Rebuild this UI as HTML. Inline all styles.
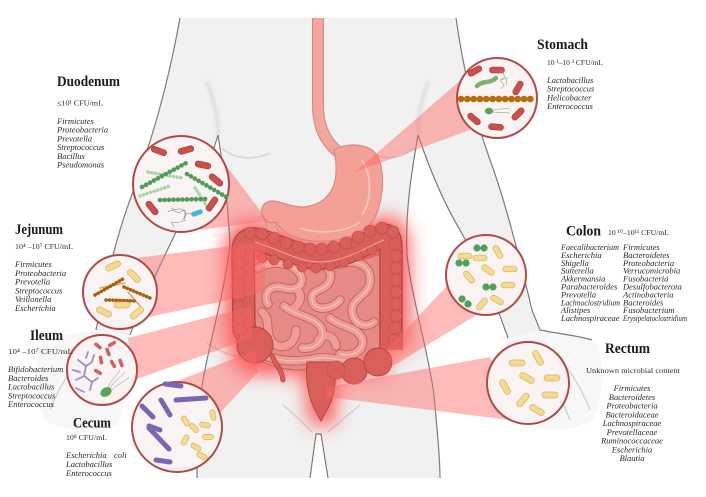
<!DOCTYPE html>
<html><head><meta charset="utf-8"><style>
html,body{margin:0;padding:0;background:#fff;}
svg{display:block;}
.t{font-family:"Liberation Serif",serif;font-weight:bold;font-size:14.5px;fill:#1a1a1a;}
.c{font-family:"Liberation Serif",serif;font-size:7.6px;fill:#2a2a2a;}
.l{font-family:"Liberation Serif",serif;font-style:italic;font-size:8.5px;fill:#2a2a2a;}
.rr{fill:#c9504d;stroke:#a33a37;stroke-width:.6;}
.yr{fill:#f4da92;stroke:#d4b35f;stroke-width:.7;}
.circ{fill:#f9f3f3;stroke:#b04a47;stroke-width:2;}
.wedge{fill:#ff6666;opacity:.45;}
.ol{fill:none;stroke:#7c7c7c;stroke-width:1.2;}
.col{fill:#d95f5a;stroke:#c04a46;stroke-width:.6;}
.colb{fill:#d95f5a;stroke:#b8423e;stroke-width:.9;}
</style></head><body>
<svg width="706" height="497" viewBox="0 0 706 497" xmlns="http://www.w3.org/2000/svg">
<defs>
<filter id="glow" x="-30%" y="-30%" width="160%" height="160%"><feGaussianBlur stdDeviation="9"/></filter>
<filter id="soft"><feGaussianBlur stdDeviation="1.5"/></filter>
<path id="l1" d="M258,268 C272,260 292,262 300,274 C306,284 296,292 284,288 C272,284 262,292 268,304"/>
<path id="l2" d="M304,264 C318,260 334,266 330,280 C326,292 310,288 312,300 C314,312 332,310 340,300"/>
<path id="l3" d="M340,264 C356,258 372,266 370,282 C368,296 352,298 352,310 C352,322 364,330 374,322"/>
<path id="l4" d="M262,312 C272,320 264,332 272,342 C282,352 296,344 296,330"/>
<path id="l5" d="M284,306 C296,316 312,316 320,326 C328,338 316,350 302,348"/>
<path id="l6" d="M330,318 C342,328 356,326 362,338 C366,350 352,358 340,354"/>
<path id="l7" d="M266,356 C282,362 300,362 318,358 C330,356 340,362 352,360"/>
<path id="l8" d="M296,288 C304,296 300,306 290,310"/>
<path id="l9" d="M318,340 C326,332 334,336 336,346"/>
</defs>

<!-- BODY -->
<path d="M180,18 L456,18 C462,60 472,110 490,160 C505,200 520,260 532,310 L540,330 C560,334 585,336 597,344 C606,370 602,400 592,420 C575,432 540,432 518,424 C508,405 505,370 508,338 C495,300 478,262 460,230 C445,205 430,170 418,135 C412,170 405,210 407,255 C412,300 428,350 434,395 C437,430 440,455 440,478 L328,478 L321,434 L316,434 L310,478 L197,478 C197,450 198,410 203,380 C210,340 225,290 230,245 C228,200 222,160 218,135 C208,170 190,205 177,230 C165,255 150,285 130,335 C125,370 128,400 118,424 C96,432 62,432 45,420 C36,400 32,370 42,344 C55,336 75,334 96,330 C104,290 115,240 130,200 C148,150 165,100 180,18 Z" fill="#f1f1f1"/>
<path d="M508,338 L540,330 C560,334 585,336 597,344 C606,370 602,400 592,420 C575,432 540,432 518,424 C508,405 505,370 508,338 Z" fill="#f7f7f7"/>
<path d="M130,335 L96,330 C75,334 55,336 42,344 C32,370 36,400 45,420 C62,432 96,432 118,424 C128,400 125,370 130,335 Z" fill="#f7f7f7"/>
<g filter="url(#soft)" stroke="#d9d9d9" stroke-width="3" fill="none">
<path d="M207,82 C214,100 218,118 218,135"/>
<path d="M428,82 C421,100 418,118 418,135"/>
</g>
<g stroke="#d2d2d2" stroke-width="1.4" fill="none">
<path d="M222,148 C235,160 255,160 270,153"/>
<path d="M414,148 C400,160 385,160 372,153"/>
<path d="M283,405 C295,415 305,425 312,432"/>
<path d="M360,405 C348,415 336,425 328,432"/>
<path d="M207,343 C220,352 232,356 242,357"/>
<path d="M545,345 C565,360 580,385 590,410"/>
<path d="M530,350 C548,370 560,395 570,420"/>
<path d="M95,345 C75,360 60,385 50,410"/>
</g>
<g class="ol">
<path d="M180,18 C165,100 148,150 130,200 C115,240 104,290 96,330"/>
<path d="M456,18 C462,60 472,110 490,160 C505,200 520,260 532,310 L540,330 C560,334 580,336 592,340"/>
<path d="M508,338 C495,300 478,262 460,230 C445,205 430,170 418,135"/>
<path d="M418,135 C412,170 405,210 407,255 C412,300 428,350 434,395 C437,430 440,455 440,478"/>
<path d="M218,135 C222,160 228,200 230,245 C225,290 210,340 203,380 C198,410 197,450 197,478"/>
<path d="M218,135 C208,170 190,205 177,230 C165,255 150,285 130,335"/>
<path d="M310,478 L316,434 L321,434 L328,478"/>
</g>

<!-- GLOW -->
<g filter="url(#glow)" opacity=".75" fill="#ff3030" stroke="#ff3030">
<path d="M255,342 L244,330 L243,252 C243,240 250,237 260,240 C285,248 300,257 320,258 C345,258 368,242 382,236 C390,233 391,240 391,250 L391,350" fill="none" stroke-width="38"/>
<rect x="248" y="245" width="140" height="130" stroke="none"/>
<circle cx="255" cy="348" r="26" stroke="none"/>
<path d="M306,360 L336,360 L330,420 L314,420 Z" stroke-width="10"/>
</g>

<!-- ESOPHAGUS & STOMACH -->
<path d="M318,18 L318,105 C318,125 324,140 338,152" fill="none" stroke="#d58880" stroke-width="12"/>
<path d="M318,18 L318,105 C318,125 324,140 338,152" fill="none" stroke="#f2a79e" stroke-width="10"/>
<path d="M268,212 C271,222 273,232 276,244" fill="none" stroke="#d58880" stroke-width="11"/>
<path d="M268,212 C271,222 273,232 276,244" fill="none" stroke="#f0a097" stroke-width="9"/>
<path d="M334,150 C345,143 368,142 377,155 C386,170 384,205 372,222 C355,242 315,246 292,236 C285,233 280,228 276,222 C270,224 264,222 262,215 C260,206 266,200 274,201 C282,202 292,207 302,207 C317,206 328,199 333,187 C338,174 336,160 334,150 Z" fill="#f3a096" stroke="#d5837a" stroke-width="1"/>
<path d="M362,160 C372,175 372,200 362,215" fill="none" stroke="#f8c4bd" stroke-width="2"/>
<path d="M300,228 C320,235 345,232 360,222" fill="none" stroke="#f8c4bd" stroke-width="1.5"/>

<!-- SMALL INTESTINE -->
<path d="M252,258 C280,262 300,270 320,270 C345,270 365,258 381,254 L381,352 C370,362 360,364 345,364 L300,370 C280,370 262,364 252,354 Z" fill="#e58a84" stroke="#c8625e"/>
<g fill="none" stroke="#c9655f" stroke-width="9.5" stroke-linecap="round">
<use href="#l1"/><use href="#l2"/><use href="#l3"/><use href="#l4"/><use href="#l5"/><use href="#l6"/><use href="#l7"/><use href="#l8"/><use href="#l9"/>
</g>
<g fill="none" stroke="#ee9d97" stroke-width="7.5" stroke-linecap="round">
<use href="#l1"/><use href="#l2"/><use href="#l3"/><use href="#l4"/><use href="#l5"/><use href="#l6"/><use href="#l7"/><use href="#l8"/><use href="#l9"/>
</g>
<g fill="none" stroke="#f7c6c1" stroke-width="1.1" stroke-linecap="round">
<use href="#l1"/><use href="#l2"/><use href="#l3"/><use href="#l5"/><use href="#l6"/><use href="#l7"/>
</g>

<!-- LARGE INTESTINE -->
<path d="M255,342 L244,330 L243,252 C243,240 250,237 260,240 C285,248 300,257 320,258 C345,258 368,242 382,236 C390,233 391,240 391,250 L391,350" fill="none" stroke="#b8423e" stroke-width="23.5" stroke-linejoin="round"/>
<path d="M255,342 L244,330 L243,252 C243,240 250,237 260,240 C285,248 300,257 320,258 C345,258 368,242 382,236 C390,233 391,240 391,250 L391,350" fill="none" stroke="#d95f5a" stroke-width="21" stroke-linejoin="round"/>
<path d="M272,356 C276,365 282,370 283,380" fill="none" stroke="#b8423e" stroke-width="5" stroke-linecap="round"/>
<path d="M272,356 C276,365 282,370 283,380" fill="none" stroke="#d95f5a" stroke-width="3.4" stroke-linecap="round"/>
<path d="M307,362 C305,382 309,398 315,410 L321,421 L327,410 C334,398 337,382 334,362 Z" class="colb"/>
<circle cx="255" cy="345" r="18" class="colb"/>
<circle cx="354" cy="371" r="13" class="colb"/>
<circle cx="378" cy="362" r="14" class="colb"/>
<g class="col">
<circle cx="240" cy="252" r="6"/><circle cx="239" cy="263" r="6"/><circle cx="239" cy="274" r="6"/><circle cx="239" cy="285" r="6"/><circle cx="239" cy="296" r="6"/><circle cx="239" cy="307" r="6"/><circle cx="240" cy="318" r="6"/><circle cx="241" cy="329" r="6"/>
<circle cx="250" cy="233" r="6"/><circle cx="262" cy="234" r="6"/><circle cx="274" cy="238" r="6"/><circle cx="286" cy="243" r="6"/><circle cx="298" cy="247" r="6"/><circle cx="310" cy="249" r="6"/><circle cx="322" cy="249" r="6"/><circle cx="334" cy="247" r="6"/><circle cx="346" cy="243" r="6"/><circle cx="358" cy="237" r="6"/><circle cx="370" cy="231" r="6"/><circle cx="382" cy="228" r="6"/><circle cx="393" cy="232" r="6"/>
<circle cx="395" cy="244" r="6"/><circle cx="396" cy="256" r="6"/><circle cx="396" cy="268" r="6"/><circle cx="396" cy="280" r="6"/><circle cx="396" cy="292" r="6"/><circle cx="396" cy="304" r="6"/><circle cx="396" cy="316" r="6"/><circle cx="395" cy="328" r="6"/><circle cx="394" cy="340" r="6"/>
<circle cx="262" cy="258" r="5"/><circle cx="274" cy="260" r="5"/><circle cx="288" cy="264" r="5"/><circle cx="302" cy="267" r="5"/><circle cx="316" cy="268" r="5"/><circle cx="330" cy="266" r="5"/><circle cx="344" cy="262" r="5"/><circle cx="358" cy="256" r="5"/><circle cx="372" cy="250" r="5"/>
<circle cx="336" cy="370" r="9"/>
</g>
<path d="M255,242 C285,252 300,262 320,262 C345,262 368,246 384,240" fill="none" stroke="#f2a5a0" stroke-width="1"/>

<!-- WEDGES -->
<polygon class="wedge" points="355,172 462,79 470,130"/>
<polygon class="wedge" points="222,160 268,221 200,230"/>
<polygon class="wedge" points="136,258 265,242 265,292 145,318"/>
<polygon class="wedge" points="128,338 252,306 252,338 134,380"/>
<polygon class="wedge" points="150,392 255,350 258,372 218,415"/>
<polygon class="wedge" points="388,348 448,285 478,314 393,366"/>
<polygon class="wedge" points="490,357 518,421 327,397 327,387"/>

<!-- CIRCLES -->
<circle class="circ" cx="181" cy="184" r="48"/>
<circle class="circ" cx="120" cy="292" r="37"/>
<circle class="circ" cx="102" cy="370" r="35"/>
<circle class="circ" cx="177" cy="427" r="45"/>
<circle class="circ" cx="497" cy="98" r="40"/>
<circle class="circ" cx="486" cy="275" r="40"/>
<circle class="circ" cx="528" cy="383" r="41"/>

<!-- Duodenum bacteria -->
<g fill="none" stroke-linecap="round">
<line x1="148" y1="172" x2="182" y2="178" stroke="#a9d1a3" stroke-width="3.4" stroke-dasharray="0.1 3.6"/>
<line x1="140" y1="196" x2="170" y2="186" stroke="#a9d1a3" stroke-width="3.4" stroke-dasharray="0.1 3.6"/>
<line x1="195" y1="188" x2="208" y2="208" stroke="#a9d1a3" stroke-width="3.4" stroke-dasharray="0.1 3.6"/>
<line x1="142" y1="187" x2="186" y2="163" stroke="#519c57" stroke-width="4.6" stroke-dasharray="0.1 4.4"/>
<line x1="160" y1="200" x2="207" y2="199" stroke="#519c57" stroke-width="4.6" stroke-dasharray="0.1 4.4"/>
<line x1="187" y1="174" x2="228" y2="198" stroke="#519c57" stroke-width="4.6" stroke-dasharray="0.1 4.4"/>
</g>
<rect class="rr" x="151" y="148" width="16" height="6" rx="3" transform="rotate(20 159 151)"/>
<rect class="rr" x="178" y="147" width="16" height="6" rx="3" transform="rotate(-15 186 150)"/>
<rect class="rr" x="195" y="162" width="16" height="6" rx="3" transform="rotate(12 203 165)"/>
<rect class="rr" x="208" y="177" width="16" height="6" rx="3" transform="rotate(40 216 180)"/>
<rect class="rr" x="144" y="205" width="16" height="6" rx="3" transform="rotate(50 152 208)"/>
<rect class="rr" x="204" y="201" width="16" height="6" rx="3" transform="rotate(-55 212 204)"/>
<path d="M168,212 c5,-6 9,4 14,-1 s6,9 -2,11 s-11,-3 -6,5 M172,208 c4,4 8,-2 12,3 s-4,8 2,10 M186,214 c3,-3 6,2 9,-2" fill="none" stroke="#8a8a8a" stroke-width=".6"/>
<rect x="191" y="210.5" width="12" height="5" rx="2.5" fill="#48b5df" transform="rotate(-20 197 213)"/>

<!-- Jejunum bacteria -->
<g stroke-linecap="round" fill="none">
<line x1="100" y1="288" x2="125" y2="283" stroke="#d2a566" stroke-width="1.5"/>
<line x1="128" y1="292" x2="140" y2="306" stroke="#d2a566" stroke-width="1.5"/>
<line x1="95" y1="295" x2="123" y2="279" stroke="#a8620f" stroke-width="3.6" stroke-dasharray="0.1 3.4"/>
<line x1="124" y1="287" x2="150" y2="298" stroke="#a8620f" stroke-width="3.6" stroke-dasharray="0.1 3.4"/>
<line x1="106" y1="300" x2="136" y2="301" stroke="#a8620f" stroke-width="3.6" stroke-dasharray="0.1 3.4"/>
</g>
<rect class="yr" x="105" y="263" width="16" height="6" rx="3" transform="rotate(-25 113 266)"/>
<rect class="yr" x="126" y="273" width="16" height="6" rx="3" transform="rotate(45 134 276)"/>
<rect class="yr" x="96" y="309" width="16" height="6" rx="3" transform="rotate(25 104 312)"/>
<rect class="yr" x="114" y="302" width="16" height="6" rx="3" transform="rotate(0 122 305)"/>
<rect class="yr" x="129" y="310" width="16" height="6" rx="3" transform="rotate(-40 137 313)"/>

<!-- Ileum bacteria -->
<path d="M78,360 L86,366 L92,362 M86,366 L84,376 L76,380 M84,376 L92,382 L90,390 M92,382 L98,378 M80,372 L73,370 M88,352 L86,358 M76,388 L84,392 M92,362 L94,355" fill="none" stroke="#a58ccb" stroke-width="1.8" stroke-linecap="round"/>
<g fill="#d06262">
<rect x="93.5" y="344.2" width="9" height="3.6" rx="1.8" transform="rotate(40 98 346)"/>
<rect x="96.5" y="358.2" width="9" height="3.6" rx="1.8" transform="rotate(80 101 360)"/>
<rect x="103.5" y="350.2" width="9" height="3.6" rx="1.8" transform="rotate(70 108 352)"/>
<rect x="108.5" y="362.2" width="9" height="3.6" rx="1.8" transform="rotate(60 113 364)"/>
<rect x="116.5" y="361.2" width="9" height="3.6" rx="1.8" transform="rotate(70 121 363)"/>
<rect x="93.5" y="370.2" width="9" height="3.6" rx="1.8" transform="rotate(30 98 372)"/>
<rect x="107.5" y="342.2" width="9" height="3.6" rx="1.8" transform="rotate(-30 112 344)"/>
</g>
<path d="M110,388 C115,380 120,378 125,372 M112,390 C118,384 124,382 129,377 M108,387 C112,378 117,376 120,370" fill="none" stroke="#8a8a8a" stroke-width=".5"/>
<ellipse cx="106" cy="392" rx="6" ry="4.5" fill="#5aa55c" transform="rotate(-30 106 392)"/>

<!-- Cecum bacteria -->
<g stroke="#7a65b3" stroke-width="5" stroke-linecap="round" fill="none">
<line x1="165" y1="384" x2="181" y2="386"/>
<line x1="142" y1="406" x2="153" y2="417"/>
<line x1="161" y1="400" x2="170" y2="415"/>
<line x1="176" y1="400" x2="206" y2="398"/>
<line x1="149" y1="426" x2="160" y2="430"/>
<line x1="149" y1="428" x2="169" y2="449"/>
<line x1="156" y1="460" x2="170" y2="462"/>
</g>
<g>
<rect class="yr" x="180" y="418.5" width="11" height="5" rx="2.5" transform="rotate(60 185.5 421)"/>
<rect class="yr" x="188.5" y="425.5" width="11" height="5" rx="2.5" transform="rotate(45 194 428)"/>
<rect class="yr" x="199.5" y="422.5" width="11" height="5" rx="2.5" transform="rotate(10 205 425)"/>
<rect class="yr" x="179.5" y="437.5" width="11" height="5" rx="2.5" transform="rotate(-60 185 440)"/>
<rect class="yr" x="190.5" y="444.5" width="11" height="5" rx="2.5" transform="rotate(30 196 447)"/>
<rect class="yr" x="202.5" y="434.5" width="11" height="5" rx="2.5" transform="rotate(0 208 437)"/>
<rect class="yr" x="196.5" y="453.5" width="11" height="5" rx="2.5" transform="rotate(30 202 456)"/>
<rect class="yr" x="207.5" y="412.5" width="11" height="5" rx="2.5" transform="rotate(80 213 415)"/>
</g>

<!-- Stomach bacteria -->
<rect class="rr" x="467.5" y="68" width="15" height="6" rx="3" transform="rotate(-30 475 71)"/>
<rect class="rr" x="489.5" y="67" width="15" height="6" rx="3" transform="rotate(0 497 70)"/>
<rect class="rr" x="510.5" y="85" width="15" height="6" rx="3" transform="rotate(-60 518 88)"/>
<rect class="rr" x="466.5" y="116" width="15" height="6" rx="3" transform="rotate(40 474 119)"/>
<rect class="rr" x="488.5" y="124" width="15" height="6" rx="3" transform="rotate(5 496 127)"/>
<rect class="rr" x="510.5" y="111" width="15" height="6" rx="3" transform="rotate(-45 518 114)"/>
<line x1="461" y1="99" x2="531" y2="99" stroke="#b86d0c" stroke-width="6.6" stroke-dasharray="0.1 6.2" stroke-linecap="round"/>
<path d="M477,86 C483,80 490,84 496,78" fill="none" stroke="#7cb36b" stroke-width="4.5" stroke-linecap="round"/>
<path d="M498,74 l4,-3 l3,6 l-5,3 l4,5 l-3,4 M502,80 l5,-2 l-1,7" fill="none" stroke="#999" stroke-width=".6"/>
<path d="M493,110 L510,108 M493,112 L510,113" stroke="#999" stroke-width=".6"/>
<ellipse cx="489" cy="111" rx="4.2" ry="3.2" fill="#5aa55c"/>

<!-- Colon bacteria -->
<g fill="#52a05a">
<circle cx="477" cy="248" r="3.6"/><circle cx="484" cy="248" r="3.6"/>
<circle cx="459" cy="263" r="3.6"/><circle cx="466" cy="263" r="3.6"/>
<circle cx="486" cy="287" r="3.6"/><circle cx="493" cy="287" r="3.6"/>
<circle cx="462" cy="299" r="3.6"/><circle cx="468" cy="304" r="3.6"/>
</g>
<rect class="yr" x="458" y="253.2" width="14" height="5.6" rx="2.8"/>
<rect class="yr" x="473" y="255.2" width="14" height="5.6" rx="2.8"/>
<rect class="yr" x="491" y="249.2" width="14" height="5.6" rx="2.8" transform="rotate(60 498 252)"/>
<rect class="yr" x="462" y="274.2" width="14" height="5.6" rx="2.8" transform="rotate(50 469 277)"/>
<rect class="yr" x="481" y="267.2" width="14" height="5.6" rx="2.8" transform="rotate(35 488 270)"/>
<rect class="yr" x="503" y="266.2" width="14" height="5.6" rx="2.8"/>
<rect class="yr" x="501" y="282.2" width="14" height="5.6" rx="2.8"/>
<rect class="yr" x="490" y="297.2" width="14" height="5.6" rx="2.8" transform="rotate(30 497 300)"/>
<rect class="yr" x="475" y="301.2" width="14" height="5.6" rx="2.8" transform="rotate(-50 482 304)"/>

<!-- Rectum bacteria -->
<rect class="yr" x="509" y="360" width="16" height="6" rx="3"/>
<rect class="yr" x="530" y="355" width="16" height="6" rx="3" transform="rotate(60 538 358)"/>
<rect class="yr" x="519" y="375" width="16" height="6" rx="3" transform="rotate(30 527 378)"/>
<rect class="yr" x="544" y="375" width="16" height="6" rx="3"/>
<rect class="yr" x="497" y="384" width="16" height="6" rx="3" transform="rotate(60 505 387)"/>
<rect class="yr" x="542" y="392" width="16" height="6" rx="3"/>
<rect class="yr" x="515" y="397" width="16" height="6" rx="3" transform="rotate(-50 523 400)"/>
<rect class="yr" x="529" y="407" width="16" height="6" rx="3" transform="rotate(30 537 410)"/>

<!-- TEXT: Duodenum -->
<text class="t" x="57" y="86" textLength="63" lengthAdjust="spacingAndGlyphs">Duodenum</text>
<text class="c" x="57" y="105.5" textLength="46" lengthAdjust="spacingAndGlyphs">≤10¹ CFU/mL</text>
<text class="l" x="57" y="124">Firmicutes</text>
<text class="l" x="57" y="132.7">Proteobacteria</text>
<text class="l" x="57" y="141.4">Prevotella</text>
<text class="l" x="57" y="150.1">Streptococcus</text>
<text class="l" x="57" y="158.8">Bacillus</text>
<text class="l" x="57" y="167.5">Pseudomonas</text>

<!-- Stomach -->
<text class="t" x="537" y="49" textLength="51" lengthAdjust="spacingAndGlyphs">Stomach</text>
<text class="c" x="547" y="65" textLength="56" lengthAdjust="spacingAndGlyphs">10 ¹–10 ³ CFU/mL</text>
<text class="l" x="547" y="83">Lactobacillus</text>
<text class="l" x="547" y="91.7">Streptococcus</text>
<text class="l" x="547" y="100.3">Helicobacter</text>
<text class="l" x="547" y="109">Enterococcus</text>

<!-- Jejunum -->
<text class="t" x="15" y="234" textLength="48" lengthAdjust="spacingAndGlyphs">Jejunum</text>
<text class="c" x="15" y="249" textLength="58" lengthAdjust="spacingAndGlyphs">10⁴ –10⁷ CFU/mL</text>
<text class="l" x="15" y="267">Firmicutes</text>
<text class="l" x="15" y="275.8">Proteobacteria</text>
<text class="l" x="15" y="284.6">Prevotella</text>
<text class="l" x="15" y="293.4">Streptococcus</text>
<text class="l" x="15" y="302.2">Veillonella</text>
<text class="l" x="15" y="311">Escherichia</text>

<!-- Ileum -->
<text class="t" x="30" y="340" textLength="33" lengthAdjust="spacingAndGlyphs">Ileum</text>
<text class="c" x="8" y="354" textLength="65" lengthAdjust="spacingAndGlyphs">10⁴ –10⁷ CFU/mL</text>
<text class="l" x="8" y="372">Bifidobacterium</text>
<text class="l" x="8" y="380.75">Bacteroides</text>
<text class="l" x="8" y="389.5">Lactobacillus</text>
<text class="l" x="8" y="398.25">Streptococcus</text>
<text class="l" x="8" y="407">Enterococcus</text>

<!-- Cecum -->
<text class="t" x="73" y="427.5" textLength="38" lengthAdjust="spacingAndGlyphs">Cecum</text>
<text class="c" x="66" y="440" textLength="41" lengthAdjust="spacingAndGlyphs">10⁸ CFU/mL</text>
<text class="l" x="66" y="458">Escherichia</text>
<text class="l" x="114" y="458">coli</text>
<text class="l" x="66" y="467">Lactobacillus</text>
<text class="l" x="66" y="476">Enterococcus</text>

<!-- Colon -->
<text class="t" x="566" y="235.5" textLength="35" lengthAdjust="spacingAndGlyphs">Colon</text>
<text class="c" x="608" y="235" textLength="61" lengthAdjust="spacingAndGlyphs">10 ¹⁰–10¹¹ CFU/mL</text>
<text class="l" x="561" y="250" textLength="58" lengthAdjust="spacingAndGlyphs">Faecalibacterium</text>
<text class="l" x="561" y="257.9">Escherichia</text>
<text class="l" x="561" y="265.8">Shigella</text>
<text class="l" x="561" y="273.7">Sutterella</text>
<text class="l" x="561" y="281.6">Akkermansia</text>
<text class="l" x="561" y="289.5">Parabacteroides</text>
<text class="l" x="561" y="297.4">Prevotella</text>
<text class="l" x="561" y="305.3" textLength="59" lengthAdjust="spacingAndGlyphs">Lachnoclostridium</text>
<text class="l" x="561" y="313.2">Alistipes</text>
<text class="l" x="561" y="321.1">Lachnospiraceae</text>
<text class="l" x="623" y="250">Firmicutes</text>
<text class="l" x="623" y="257.9">Bacteroidetes</text>
<text class="l" x="623" y="265.8">Proteobacteria</text>
<text class="l" x="623" y="273.7">Verrucomicrobia</text>
<text class="l" x="623" y="281.6">Fusobacteria</text>
<text class="l" x="623" y="289.5">Desulfobacterota</text>
<text class="l" x="623" y="297.4">Actinobacteria</text>
<text class="l" x="623" y="305.3">Bacteroides</text>
<text class="l" x="623" y="313.2">Fusobacterium</text>
<text class="l" x="623" y="321.1" textLength="64" lengthAdjust="spacingAndGlyphs">Erysipelatoclostridium</text>

<!-- Rectum -->
<text class="t" x="605" y="353" textLength="45" lengthAdjust="spacingAndGlyphs">Rectum</text>
<text class="c" x="586" y="373" textLength="94" lengthAdjust="spacingAndGlyphs">Unknown microbial content</text>
<g text-anchor="middle">
<text class="l" x="632" y="391">Firmicutes</text>
<text class="l" x="632" y="399.75">Bacteroidetes</text>
<text class="l" x="632" y="408.5">Proteobacteria</text>
<text class="l" x="632" y="417.25">Bacteroidaceae</text>
<text class="l" x="632" y="426">Lachnospiraceae</text>
<text class="l" x="632" y="434.75">Prevotellaceae</text>
<text class="l" x="632" y="443.5">Ruminococcaceae</text>
<text class="l" x="632" y="452.25">Escherichia</text>
<text class="l" x="632" y="461">Blautia</text>
</g>
</svg>
</body></html>
